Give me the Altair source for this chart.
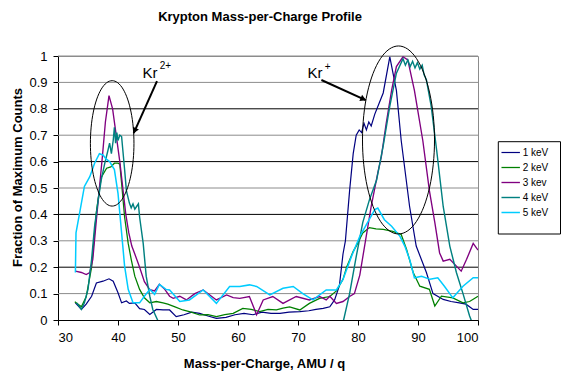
import altair as alt
import pandas as pd
import numpy as np

# ---------------- data ----------------
series_names = ["1 keV", "2 keV", "3 kev", "4 keV", "5 keV"]
series_colors = ["#000080", "#008000", "#800080", "#008080", "#00CCFF"]
series_widths = [1.2, 1.5, 2.0, 1.5, 2.0]

x_1kev = [32.9, 33.9, 34.7, 35.6, 36.4, 37.5, 38.5, 39.2, 40.0, 40.6, 41.4, 41.9, 42.8, 43.6,
          44.4, 45.3, 46.4, 47.5, 48.6, 49.7, 51.0, 52.3, 53.6, 55.0, 56.4, 58.0, 59.5, 61.0,
          62.5, 64.0, 65.5, 67.0, 68.5, 70.3, 71.8, 73.0, 74.2, 75.3, 76.1, 76.9, 77.5, 77.9,
          78.6, 79.2, 79.7, 80.2, 80.6, 81.0, 81.4, 81.8, 82.2, 82.8, 84.2, 85.3, 86.4, 87.2,
          88.6, 89.7, 91.4, 92.5, 94.2, 95.5, 96.9, 98.0, 99.2, 100.0]
y_1kev = [0.065, 0.04, 0.06, 0.09, 0.14, 0.147, 0.156, 0.147, 0.103, 0.065, 0.072, 0.063, 0.065, 0.043,
          0.04, 0.021, 0.04, 0.038, 0.038, 0.013, 0.02, 0.03, 0.025, 0.015, 0.006, 0.01, 0.02, 0.025,
          0.02, 0.03, 0.025, 0.025, 0.03, 0.032, 0.035, 0.04, 0.044, 0.05, 0.076, 0.13, 0.25, 0.30,
          0.49, 0.63, 0.70, 0.72, 0.71, 0.745, 0.72, 0.75, 0.735, 0.78, 0.86, 0.997, 0.87, 0.68,
          0.43, 0.28, 0.18, 0.10, 0.078, 0.07, 0.065, 0.06, 0.04, 0.04]

x_2kev = [32.8, 33.9, 34.7, 35.6, 36.4, 37.2, 38.1, 38.8, 39.4, 40.0, 40.3, 40.6, 41.1, 41.7,
          42.2, 42.8, 43.6, 44.4, 45.3, 46.4, 47.5, 48.3, 49.5, 50.8, 52.2, 53.6, 55.0, 56.4,
          57.8, 59.2, 60.8, 62.2, 63.6, 65.0, 66.4, 67.5, 68.6, 70.3, 71.9, 73.6, 75.3, 76.4,
          77.5, 78.1, 79.2, 79.7, 80.8, 81.9, 83.0, 84.2, 85.8, 87.2, 88.1, 89.2, 90.3, 91.9,
          92.8, 93.9, 95.8, 97.5, 98.6, 100.0]
y_2kev = [0.069, 0.05, 0.0875, 0.2, 0.41, 0.54, 0.575, 0.58, 0.594, 0.594, 0.59, 0.518, 0.39, 0.29,
          0.23, 0.166, 0.116, 0.084, 0.065, 0.07, 0.065, 0.06, 0.05, 0.038, 0.03, 0.019, 0.02, 0.013,
          0.02, 0.025, 0.044, 0.04, 0.032, 0.04, 0.038, 0.045, 0.05, 0.038, 0.063, 0.082, 0.089, 0.11,
          0.154, 0.2, 0.26, 0.28, 0.33, 0.35, 0.345, 0.343, 0.336, 0.324, 0.267, 0.18, 0.128, 0.116,
          0.053, 0.09, 0.084, 0.065, 0.07, 0.09]

x_3kev = [32.9, 33.9, 34.7, 35.3, 35.8, 36.4, 36.9, 37.4, 37.9, 38.5, 39.1, 39.7, 40.3, 40.8,
          41.3, 41.8, 42.3, 42.8, 43.6, 44.4, 45.3, 46.1, 46.9, 47.8, 48.6, 49.2, 50.3, 51.4,
          52.8, 54.2, 55.3, 56.4, 58.1, 59.2, 60.3, 61.9, 63.1, 64.2, 65.8, 67.5, 69.7, 71.9,
          73.6, 74.7, 75.3, 76.4, 77.5, 78.6, 79.4, 80.3, 81.1, 82.2, 83.3, 83.9, 84.7, 85.6,
          86.4, 87.5, 88.3, 89.4, 90.8, 91.9, 92.8, 93.6, 94.2, 95.3, 96.4, 97.2, 98.1, 99.2, 100.0]
y_3kev = [0.185, 0.18, 0.172, 0.18, 0.23, 0.38, 0.5, 0.62, 0.75, 0.85, 0.80, 0.70, 0.60, 0.50,
          0.40, 0.33, 0.28, 0.25, 0.20, 0.145, 0.115, 0.11, 0.135, 0.116, 0.09, 0.082, 0.09, 0.076,
          0.10, 0.114, 0.095, 0.076, 0.095, 0.085, 0.082, 0.089, 0.02, 0.076, 0.089, 0.063, 0.089, 0.076,
          0.089, 0.076, 0.09, 0.063, 0.07, 0.089, 0.10, 0.17, 0.28, 0.43, 0.557, 0.62, 0.745, 0.87,
          0.96, 0.997, 0.985, 0.87, 0.68, 0.49, 0.37, 0.254, 0.223, 0.23, 0.204, 0.185, 0.23, 0.29, 0.265]

x_4kev = [33.1, 33.9, 34.4, 35.0, 35.6, 36.1, 36.7, 37.2, 37.8, 38.3, 38.6, 38.9, 39.2, 39.4,
          39.6, 39.8, 40.0, 40.3, 40.6, 40.8, 41.1, 41.4, 41.9, 42.2, 42.5, 42.8, 43.1, 43.4,
          43.6, 44.2, 44.7, 45.3, 45.8, 46.6, 47.5, 50.0, 60.0, 70.0, 76.5, 77.5, 78.6, 79.7,
          80.8, 81.9, 83.1, 84.2, 85.3, 86.4, 87.5, 87.9, 88.3, 88.7, 89.1, 89.5, 89.9, 90.3,
          90.7, 91.0, 91.4, 92.2, 93.1, 94.2, 95.3, 96.4, 97.5, 98.6, 99.2, 100.0]
y_4kev = [0.065, 0.04, 0.065, 0.116, 0.23, 0.355, 0.455, 0.53, 0.594, 0.64, 0.67, 0.63, 0.68, 0.73,
          0.67, 0.71, 0.68, 0.70, 0.695, 0.645, 0.57, 0.49, 0.443, 0.425, 0.44, 0.42, 0.43, 0.44,
          0.39, 0.29, 0.166, 0.09, 0.04, 0.0, -0.05, -0.1, -0.1, -0.1, -0.05, -0.01, 0.10, 0.24,
          0.37, 0.455, 0.53, 0.66, 0.81, 0.935, 0.99, 0.965, 0.985, 0.96, 0.98, 0.955, 0.975, 0.95,
          0.965, 0.93, 0.91, 0.81, 0.645, 0.43, 0.28, 0.18, 0.10, 0.015, -0.02, -0.06]

x_5kev = [32.9, 33.0, 33.6, 34.4, 35.3, 36.1, 36.9, 37.5, 38.0, 38.6, 39.4, 40.0, 40.6, 41.1,
          41.7, 42.5, 43.6, 44.4, 45.3, 46.1, 46.9, 48.0, 48.6, 50.3, 51.9, 54.2, 56.4, 58.6,
          60.3, 61.9, 63.1, 65.3, 67.5, 69.2, 70.8, 72.5, 74.7, 76.4, 77.5, 78.9, 80.3, 81.7,
          82.8, 83.3, 84.4, 85.6, 87.0, 87.8, 88.6, 89.4, 90.6, 92.0, 93.3, 94.4, 95.8, 97.5,
          99.2, 100.0]
y_5kev = [0.18, 0.33, 0.405, 0.506, 0.543, 0.594, 0.63, 0.625, 0.61, 0.60, 0.57, 0.48, 0.33, 0.204,
          0.116, 0.065, 0.065, 0.09, 0.116, 0.097, 0.135, 0.116, 0.114, 0.07, 0.076, 0.114, 0.063, 0.127,
          0.127, 0.133, 0.127, 0.095, 0.12, 0.127, 0.10, 0.076, 0.114, 0.114, 0.154, 0.24, 0.317, 0.374,
          0.418, 0.424, 0.38, 0.355, 0.317, 0.28, 0.23, 0.16, 0.166, 0.154, 0.16, 0.128, 0.084, 0.128,
          0.16, 0.16]

x_ticks = [30, 40, 50, 60, 70, 80, 90, 100]
y_ticks = [0, 0.1, 0.2, 0.3, 0.4, 0.5, 0.6, 0.7, 0.8, 0.9, 1.0]
grid_dark = [0.2, 0.4, 0.6, 0.8]
grid_light = [0.1, 0.3, 0.5, 0.7, 0.9, 1.0]

# annotations (data units)
ellipse_cx = [39.03, 86.75]
ellipse_cy = [0.669, 0.682]
ellipse_a = [3.63, 6.0]
ellipse_b = [0.2375, 0.356]

arrow_x = [46.5, 73.9]
arrow_y = [0.905, 0.909]
arrow_x2 = [42.62, 81.28]
arrow_y2 = [0.708, 0.833]
head_x = [42.85, 80.75]
head_y = [0.7205, 0.8386]
head_angle = [204, 114]

label_text = ["Kr", "Kr"]
label_x = [44.1, 71.6]
label_y = [0.918, 0.9155]
sup_text = ["2+", "+"]
sup_x = [46.95, 74.45]
sup_y = [0.951, 0.947]

title_text = "Krypton Mass-per-Charge Profile"

# ---------------- build tables ----------------
all_x = [x_1kev, x_2kev, x_3kev, x_4kev, x_5kev]
all_y = [y_1kev, y_2kev, y_3kev, y_4kev, y_5kev]
rows = []
for i, (name, xs, ys) in enumerate(zip(series_names, all_x, all_y)):
    for j, (xv, yv) in enumerate(zip(xs, ys)):
        rows.append({"series": name, "sidx": i, "idx": j, "x": xv, "y": yv})
df = pd.DataFrame(rows)

ell_rows = []
t = np.linspace(0, 2 * np.pi, 97)
for k in range(len(ellipse_cx)):
    for j, tv in enumerate(t):
        ell_rows.append({"e": k, "o": j,
                         "x": ellipse_cx[k] + ellipse_a[k] * np.cos(tv),
                         "y": ellipse_cy[k] + ellipse_b[k] * np.sin(tv)})
ell_df = pd.DataFrame(ell_rows)

arrow_df = pd.DataFrame({"x": arrow_x, "y": arrow_y, "x2": arrow_x2, "y2": arrow_y2,
                         "hx": head_x, "hy": head_y, "ang": head_angle})
label_df = pd.DataFrame({"t": label_text, "x": label_x, "y": label_y})
sup_df = pd.DataFrame({"t": sup_text, "x": sup_x, "y": sup_y})

FONT = "Liberation Sans"

xscale = alt.Scale(domain=[30, 100], nice=False, zero=False)
yscale = alt.Scale(domain=[0, 1], nice=False)

x_axis = alt.Axis(values=x_ticks, tickCount=len(x_ticks), title="Mass-per-Charge, AMU / q",
                  grid=False, domainColor="black", tickColor="black", tickSize=5, labelFontSize=13,
                  labelPadding=6, labelColor="black", labelOverlap=False,
                  titleFontSize=13, titleFontWeight="bold",
                  titleColor="black", titleX=206, titleY=47, titleBaseline="alphabetic",
                  titleAlign="center", titleAnchor="middle")
y_axis = alt.Axis(values=y_ticks, tickCount=len(y_ticks), title="Fraction of Maximum Counts",
                  format=".1~f",
                  grid=False, domainColor="black", tickColor="black", tickSize=5,
                  labelFontSize=13, labelPadding=6, labelColor="black", labelOverlap=False,
                  titleFontSize=13, titleFontWeight="bold", titleColor="black",
                  titleX=-37, titleY=121, titleAngle=270, titleBaseline="alphabetic",
                  titleAlign="center", titleAnchor="middle")

# horizontal gridlines (dark and light, as in the reference rendering)
grid_dark_layer = alt.Chart(pd.DataFrame({"g": grid_dark})).mark_rule(
    color="#000000", strokeWidth=1).encode(y=alt.Y("g:Q", scale=yscale, axis=y_axis))
grid_light_layer = alt.Chart(pd.DataFrame({"g": grid_light})).mark_rule(
    color="#8c8c8c", strokeWidth=1).encode(y=alt.Y("g:Q", scale=yscale, axis=y_axis))

lines = alt.Chart(df).mark_line(clip=True).encode(
    x=alt.X("x:Q", scale=xscale, axis=x_axis),
    y=alt.Y("y:Q", scale=yscale, axis=y_axis),
    color=alt.Color("series:N",
                    scale=alt.Scale(domain=series_names, range=series_colors),
                    sort=series_names,
                    legend=alt.Legend(orient="none", legendX=440.7, legendY=84.5, title=None,
                                      symbolType="stroke", symbolSize=340, symbolStrokeWidth=1.5,
                                      labelFontSize=10, labelFont=FONT, labelColor="black",
                                      padding=2, rowPadding=0, labelOffset=2)),
    strokeWidth=alt.StrokeWidth("series:N",
                                scale=alt.Scale(domain=series_names, range=series_widths),
                                legend=None),
    order=alt.Order("idx:Q"),
)

legend_box = alt.Chart(pd.DataFrame({"k": [0]})).mark_rect(
    fill="white", stroke="black", strokeWidth=1
).encode(x=alt.value(440.3), x2=alt.value(502.5), y=alt.value(85.7), y2=alt.value(178))

ellipses = alt.Chart(ell_df).mark_line(color="black", strokeWidth=1, clip=False).encode(
    x=alt.X("x:Q", scale=xscale, axis=x_axis), y=alt.Y("y:Q", scale=yscale, axis=y_axis),
    detail="e:N", order=alt.Order("o:Q"))

arrows = alt.Chart(arrow_df).mark_rule(color="black", strokeWidth=2, clip=False).encode(
    x=alt.X("x:Q", scale=xscale, axis=x_axis), y=alt.Y("y:Q", scale=yscale, axis=y_axis),
    x2="x2:Q", y2="y2:Q")

heads = alt.Chart(arrow_df).mark_point(shape="triangle", filled=True, color="black",
                                       size=45, opacity=1, clip=False).encode(
    x=alt.X("hx:Q", scale=xscale, axis=x_axis), y=alt.Y("hy:Q", scale=yscale, axis=y_axis),
    angle=alt.Angle("ang:Q", scale=None))

labels = alt.Chart(label_df).mark_text(align="left", baseline="alphabetic", fontSize=15,
                                       font=FONT, color="black", clip=False).encode(
    x=alt.X("x:Q", scale=xscale, axis=x_axis), y=alt.Y("y:Q", scale=yscale, axis=y_axis),
    text="t:N")

sups = alt.Chart(sup_df).mark_text(align="left", baseline="alphabetic", fontSize=10,
                                   font=FONT, color="black", clip=False).encode(
    x=alt.X("x:Q", scale=xscale, axis=x_axis), y=alt.Y("y:Q", scale=yscale, axis=y_axis),
    text="t:N")

title = alt.Chart(pd.DataFrame({"t": [title_text]})).mark_text(
    align="center", baseline="middle", fontSize=13, fontWeight="bold", font=FONT, color="black"
).encode(x=alt.value(202), y=alt.value(-39), text="t:N")

chart = alt.layer(grid_light_layer, grid_dark_layer, legend_box, lines, ellipses, arrows,
                  heads, labels, sups, title).properties(
    width=420, height=264,
    autosize=alt.AutoSizeParams(type="none"),
    padding={"left": 58, "top": 56, "right": 83, "bottom": 51},
).configure(font=FONT).configure_view(stroke="#8c8c8c", strokeWidth=1).configure_axis(
    labelFont=FONT, titleFont=FONT, labelOverlap=False)

chart.save("out.html", embed_options={"renderer": "svg", "actions": False})
